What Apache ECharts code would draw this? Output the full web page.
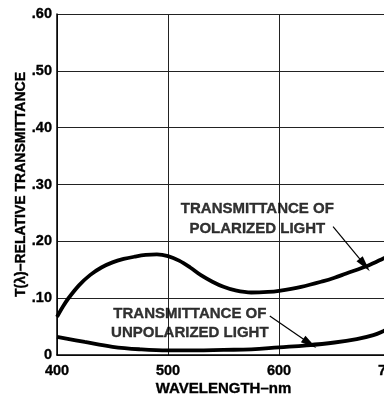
<!DOCTYPE html>
<html>
<head>
<meta charset="utf-8">
<script src="https://cdn.jsdelivr.net/npm/echarts@6/dist/echarts.min.js"></script>
<style>html,body{margin:0;padding:0;background:#fff}#c{width:384px;height:401px}</style>
</head>
<body>
<div id="c"></div>
<script>
// wavelength (nm), relative transmittance
const polarizedX = [400, 405, 410, 420, 430, 440, 450, 460, 470, 480, 490, 500, 510, 520, 530, 540, 550, 560, 575, 590, 600, 620, 640, 650, 660, 680, 694, 700];
const polarizedY = [0.067, 0.084, 0.099, 0.123, 0.141, 0.154, 0.163, 0.169, 0.173, 0.176, 0.177, 0.174, 0.166, 0.154, 0.140, 0.129, 0.120, 0.114, 0.110, 0.111, 0.113, 0.120, 0.130, 0.136, 0.143, 0.157, 0.170, 0.176];
const unpolarizedX = [400, 425, 450, 475, 500, 525, 550, 575, 600, 625, 650, 670, 685, 694, 700];
const unpolarizedY = [0.032, 0.023, 0.0145, 0.010, 0.008, 0.008, 0.009, 0.010, 0.0135, 0.017, 0.022, 0.028, 0.035, 0.042, 0.048];
const xTickLabels = ['400', '500', '600', '700'];
const yTickLabels = ['0', '.10', '.20', '.30', '.40', '.50', '.60'];
const annotationTexts = ['TRANSMITTANCE OF\nPOLARIZED LIGHT', 'TRANSMITTANCE OF\nUNPOLARIZED LIGHT'];
const annotationAt = [[580.5, 0.2397], [519.7, 0.0558]];
const arrowFrom = [[648.7, 0.2258], [591.7, 0.0686]];
const arrowTo = [[677.2, 0.1584], [627.7, 0.0202]];

const FONT = '"Liberation Sans", Arial, Helvetica, sans-serif';
const HEAVY = {textBorderColor: '#000', textBorderWidth: 0.35};
const chart = echarts.init(document.getElementById('c'), null, {renderer: 'canvas'});
const zip = (xs, ys) => xs.map((x, i) => [x, ys[i]]);
chart.setOption({
  animation: false,
  backgroundColor: '#fff',
  grid: {left: 57, right: -6, top: 14, bottom: 46, containLabel: false, outerBoundsMode: 'none'},
  xAxis: {
    type: 'value', min: 400, max: 700, interval: 100,
    name: 'WAVELENGTH–nm', nameLocation: 'middle', nameGap: 26, nameMoveOverlap: false,
    nameTextStyle: Object.assign({fontFamily: FONT, fontWeight: 'bold', fontSize: 15, color: '#000'}, HEAVY),
    axisLine: {show: true, lineStyle: {color: '#000', width: 1.5}},
    axisTick: {show: false},
    axisLabel: Object.assign({fontFamily: FONT, fontWeight: 'bold', fontSize: 14.5, color: '#000', margin: 8,
      formatter: v => xTickLabels[Math.round((v - 400) / 100)]}, HEAVY),
    splitLine: {show: true, lineStyle: {color: '#222', width: 1}}
  },
  yAxis: {
    type: 'value', min: 0, max: 0.6, interval: 0.1,
    name: 'T(λ)–RELATIVE TRANSMITTANCE', nameLocation: 'middle', nameGap: 29, nameRotate: 90, nameMoveOverlap: false,
    nameTextStyle: Object.assign({fontFamily: FONT, fontWeight: 'bold', fontSize: 14, color: '#000'}, HEAVY),
    axisLine: {show: true, lineStyle: {color: '#000', width: 1.5}},
    axisTick: {show: false},
    axisLabel: Object.assign({fontFamily: FONT, fontWeight: 'bold', fontSize: 14.5, color: '#000', margin: 5,
      formatter: v => yTickLabels[Math.round(v * 10)]}, HEAVY),
    splitLine: {show: true, lineStyle: {color: '#222', width: 1}}
  },
  series: [
    {type: 'line', data: zip(polarizedX, polarizedY), smooth: 0.35, symbol: 'none',
      lineStyle: {color: '#000', width: 3.8}},
    {type: 'line', data: zip(unpolarizedX, unpolarizedY), smooth: 0.4, symbol: 'none',
      lineStyle: {color: '#000', width: 3.8},
      markLine: {
        silent: true, symbol: ['none', 'triangle'], symbolSize: [8, 16],
        lineStyle: {color: '#000', width: 1.2, type: 'solid'}, label: {show: false},
        data: arrowFrom.map((f, i) => [{coord: f}, {coord: arrowTo[i]}])
      }},
    {type: 'scatter', symbolSize: 0, data: annotationAt.map((p, i) => ({value: p, text: annotationTexts[i]})),
      label: {show: true, position: 'inside', formatter: p => p.data.text, color: '#000',
        textBorderWidth: 0.35, textBorderColor: '#000',
        fontFamily: FONT, fontWeight: 'bold', fontSize: 15, lineHeight: 19.5, align: 'center', verticalAlign: 'middle'}}
  ]
});
</script>
</body>
</html>
